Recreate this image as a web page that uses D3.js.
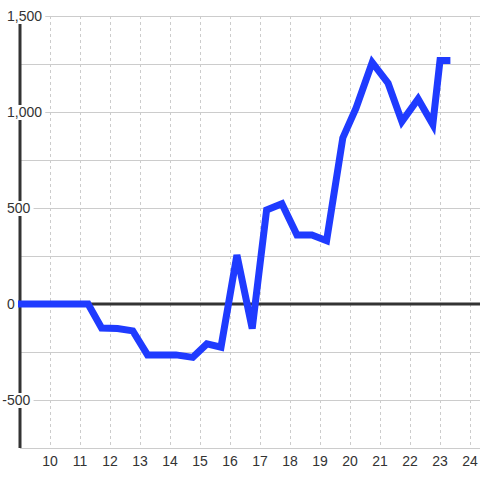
<!DOCTYPE html>
<html>
<head>
<meta charset="utf-8">
<script src="https://cdn.jsdelivr.net/npm/d3@7"></script>
<style>
html,body{margin:0;padding:0;background:#fff;}
svg{display:block;font-family:"Liberation Sans",Arial,sans-serif;}
</style>
</head>
<body>
<div id="chart"></div>
<script>
const times = [9, 11.27, 11.72, 12.25, 12.76, 13.25, 14.2, 14.76, 15.23, 15.7, 16.23, 16.74, 17.22, 17.73, 18.23, 18.73, 19.22, 19.76, 20.2, 20.74, 21.27, 21.73, 22.27, 22.76, 23.0, 23.23];
const values = [0, 0, -125, -128, -140, -265, -265, -278, -208, -225, 255, -128, 490, 522, 360, 360, 330, 865, 1020, 1258, 1150, 950, 1068, 935, 1268, 1268];
const xTicks = [10, 11, 12, 13, 14, 15, 16, 17, 18, 19, 20, 21, 22, 23, 24];
const yGrid = [-750, -500, -250, 0, 250, 500, 750, 1000, 1250, 1500];
const yLabels = [-500, 0, 500, 1000, 1500];

const W = 480, H = 480;
const svg = d3.select("#chart").append("svg").attr("width", W).attr("height", H);
svg.append("rect").attr("width", W).attr("height", H).attr("fill", "#fff");

const x = d3.scaleLinear().domain([9, 24.3333]).range([20, 480]);
const y = d3.scaleLinear().domain([-750, 1500]).range([448, 16]);

// horizontal grid
svg.append("g").selectAll("line").data(yGrid).join("line")
  .attr("x1", 20).attr("x2", 480)
  .attr("y1", d => y(d)).attr("y2", d => y(d))
  .attr("stroke", "#cccccc").attr("stroke-width", 1)
  .attr("shape-rendering", "crispEdges");

// vertical dashed grid
svg.append("g").selectAll("line").data(xTicks).join("line")
  .attr("x1", d => Math.round(x(d)) + 0.5).attr("x2", d => Math.round(x(d)) + 0.5)
  .attr("y1", y(1500)).attr("y2", y(-750))
  .attr("stroke", "#cccccc").attr("stroke-width", 1)
  .attr("stroke-dasharray", "3,3");

// zero line
svg.append("line").attr("x1", 20).attr("x2", 480)
  .attr("y1", y(0)).attr("y2", y(0))
  .attr("stroke", "#333").attr("stroke-width", 3);

// y axis line
svg.append("line").attr("x1", 20).attr("x2", 20)
  .attr("y1", y(1500)).attr("y2", y(-750))
  .attr("stroke", "#333").attr("stroke-width", 3);

// data line
const line = d3.line().x((d, i) => x(times[i])).y(d => y(d));
svg.append("path").datum(values)
  .attr("d", line)
  .attr("fill", "none")
  .attr("stroke", "#1f3bff")
  .attr("stroke-width", 7)
  .attr("stroke-linecap", "square")
  .attr("stroke-linejoin", "miter");

// y labels with background
const fmt = d3.format(",");
const yl = svg.append("g");
yLabels.forEach(v => {
  const g = yl.append("g");
  const t = g.append("text")
    .attr("x", 7).attr("y", y(v)).attr("dy", "0.36em")
    .attr("font-size", 14).attr("fill", "#333")
    .text(fmt(v).replace("\u2212", "-"));
  if (v < 0) {
    const tmp = g.append("text").attr("font-size", 14).text("-");
    const mw = tmp.node().getComputedTextLength();
    tmp.remove();
    t.attr("x", 7 - mw);
  }
  const bb = t.node().getBBox();
  g.insert("rect", "text")
    .attr("x", bb.x - 2).attr("y", y(v) - 7)
    .attr("width", bb.width + 5).attr("height", 15)
    .attr("fill", "#fff");
});

// x labels
svg.append("g").selectAll("text").data(xTicks).join("text")
  .attr("x", d => x(d)).attr("y", 466)
  .attr("text-anchor", "middle")
  .attr("font-size", 14).attr("fill", "#333")
  .text(d => d);
</script>
</body>
</html>
